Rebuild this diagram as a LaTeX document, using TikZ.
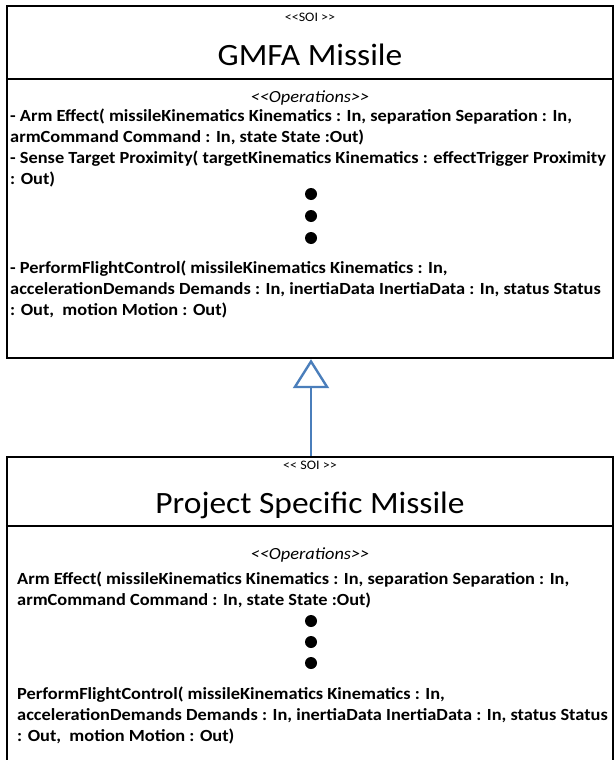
\documentclass[tikz,border=0pt]{standalone}
\usepackage{fontspec}
\setmainfont{Carlito}[Ligatures=TeXOff, FakeStretch=1.08]
\usetikzlibrary{arrows.meta,positioning,calc}
\definecolor{umlblue}{HTML}{4A7EBB}
\tikzset{
  % class outline and compartment lines
  cls/.style    = {rectangle, draw=black, line width=2.4pt, inner sep=0pt},
  sep/.style    = {draw=black, line width=2.4pt},
  stereo/.style = {font=\fontsize{13}{15}\selectfont, inner sep=0pt, anchor=base},
  ttl/.style    = {font=\fontsize{31}{36}\selectfont, inner sep=0pt, anchor=base},
  opshd/.style  = {font=\fontsize{17}{20}\selectfont\itshape, inner sep=0pt, anchor=base},
  % anchor base = baseline of the last line
  op/.style     = {font=\fontsize{17}{21}\selectfont\bfseries, align=left,
                   inner sep=0pt, anchor=base west},
  dot/.style    = {circle, fill=black, inner sep=0pt, minimum size=12pt},
  gen/.style    = {-{Triangle[open, length=29pt, width=36pt]}, umlblue, line width=2.4pt},
}
\begin{document}
\begin{tikzpicture}[x=1pt, y=-1pt]
\useasboundingbox (0,0) rectangle (614,760);
\clip (0,0) rectangle (614,760);
% general class
\node[cls, minimum width=606pt, minimum height=352pt] (gmfa) at (310,182) {};
\draw[sep] (gmfa.north west) ++(0,74) -- ++(606,0);
\node[stereo] (soi1) at (310,22) {<<SOI >>};
\node[ttl] (name1) at (310,66) {GMFA Missile};
\node[opshd] (opshd1) at (310,102.5) {<<Operations>>};
\node[op] (ops1a) at (10,184)
  {- Arm Effect( missileKinematics Kinematics : In, separation Separation : In,\\
   armCommand Command : In, state State :Out)\\
   - Sense Target Proximity( targetKinematics Kinematics : effectTrigger Proximity\\
   : Out)};
\foreach \y [count=\i] in {194,216,238} \node[dot] (dota\i) at (311,\y) {};
\node[op] (ops1b) at (10,315)
  {- PerformFlightControl( missileKinematics Kinematics : In,\\
   accelerationDemands Demands : In, inertiaData InertiaData : In, status Status\\
   : Out, \ motion Motion : Out)};
% specific class
\node[cls, minimum width=606pt, minimum height=340pt] (psm) at (310,627) {};
\draw[sep] (psm.north west) ++(0,70) -- ++(606,0);
\node[stereo] (soi2) at (310,469) {<< SOI >>};
\node[ttl] (name2) at (310,513) {Project Specific Missile};
\node[opshd] (opshd2) at (310,559) {<<Operations>>};
\node[op] (ops2a) at (17,605)
  {Arm Effect( missileKinematics Kinematics : In, separation Separation : In,\\
   armCommand Command : In, state State :Out)};
\foreach \y [count=\i] in {621,642,663} \node[dot] (dotb\i) at (311,\y) {};
\node[op] (ops2b) at (17,741.5)
  {PerformFlightControl( missileKinematics Kinematics : In,\\
   accelerationDemands Demands : In, inertiaData InertiaData : In, status Status\\
   : Out, \ motion Motion : Out)};
% generalisation
\draw[gen] (psm.north -| dota1) -- (gmfa.south -| dota1);
\end{tikzpicture}
\end{document}
